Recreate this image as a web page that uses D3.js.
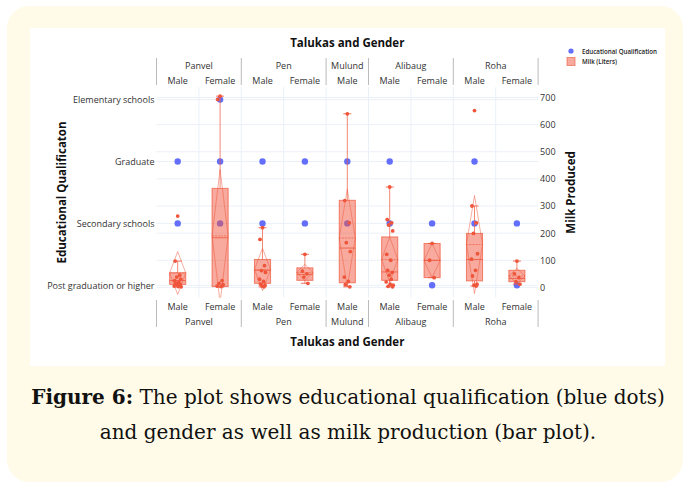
<!DOCTYPE html>
<html>
<head>
<meta charset="utf-8">
<script src="https://cdn.jsdelivr.net/npm/d3@7"></script>
<style>
  html, body { margin: 0; padding: 0; background: #ffffff; }
  svg { display: block; }
  text { font-family: "Open Sans", sans-serif; }
  text.caption { font-family: "DejaVu Serif", serif; }
</style>
</head>
<body>
<svg id="chart" width="690" height="485"></svg>
<script>
// ---- data -------------------------------------------------------------
const talukas = ["Panvel", "Pen", "Mulund", "Alibaug", "Roha"];
const catTaluka = ["Panvel", "Panvel", "Pen", "Pen", "Mulund", "Alibaug", "Alibaug", "Roha", "Roha"];
const catGender = ["Male", "Female", "Male", "Female", "Male", "Male", "Female", "Male", "Female"];

const qualLevels = ["Post graduation or higher", "Secondary schools", "Graduate", "Elementary schools"];

// educational qualification reported in each taluka / gender group
const eduCat   = [0, 0, 1, 1, 1, 2, 2, 3, 3, 4, 4, 5, 5, 6, 6, 7, 7, 8, 8];
const eduLevel = ["Graduate", "Secondary schools",
                  "Elementary schools", "Graduate", "Secondary schools",
                  "Graduate", "Secondary schools",
                  "Graduate", "Secondary schools",
                  "Graduate", "Secondary schools",
                  "Graduate", "Secondary schools",
                  "Secondary schools", "Post graduation or higher",
                  "Graduate", "Secondary schools",
                  "Secondary schools", "Post graduation or higher"];

// milk produced (liters): box statistics per group
const milkQ1     = [11,   3,  15, 26,  17,  26,  36,  24, 21];
const milkMedian = [25, 183,  63, 48, 145,  57, 100, 103, 33];
const milkQ3     = [54, 365, 103, 72, 321, 186, 162, 199, 63];
const milkLow    = [2,    1,   2, 15,   2,   2,  36,   5, 12];
const milkHigh   = [97, 705, 220, 122, 640, 370, 162, 300, 97];
const milkMean   = [53, 190,  66, 55, 182, 103,  99, 158, 42];
const milkSd     = [79, 245,  78, 30, 180,  83,  63, 181, 28];

// individual milk observations per group
const milkPoints = [
  [263, 97, 45, 38, 30, 25, 20, 15, 12, 10, 8, 5, 3, 2],
  [705, 693, 25, 15, 10, 5, 3],
  [220, 177, 80, 62, 55, 30, 22, 12, 8, 5, 2],
  [122, 60, 50, 38, 15],
  [640, 320, 238, 165, 132, 38, 22, 10, 2],
  [370, 250, 238, 230, 208, 122, 100, 63, 55, 45, 30, 20, 12, 8, 4, 2],
  [162, 100, 36],
  [652, 300, 238, 199, 124, 104, 63, 42, 12, 8, 5],
  [97, 50, 36, 21, 12]
];

const milkTicks = [0, 100, 200, 300, 400, 500, 600, 700];

// ---- layout -----------------------------------------------------------
const svg = d3.select("#chart");
const plot = { left: 156.5, right: 538.1, top: 87.2, bottom: 297.7 };
const blue = "#636EFA", red = "#EF553B", grid = "#EBF0F8", txt = "#333";

// card background
svg.append("rect").attr("x", 7).attr("y", 6).attr("width", 676).attr("height", 476)
  .attr("rx", 22).attr("fill", "#fffbe8");
svg.append("rect").attr("x", 30).attr("y", 28).attr("width", 635).attr("height", 338)
  .attr("fill", "#ffffff");

const x = d3.scaleBand().domain(d3.range(catGender.length)).range([plot.left, plot.right]).padding(0);
const yQual = d3.scaleLinear().domain([-0.2, 3.2]).range([plot.bottom, plot.top]);
const yMilk = d3.scaleLinear().domain([-38, 738]).range([plot.bottom, plot.top]);
const bw = x.bandwidth();
const boxW = bw * 0.38;

// gridlines
const gridG = svg.append("g");
milkTicks.forEach(t => gridG.append("line")
  .attr("x1", plot.left).attr("x2", plot.right).attr("y1", yMilk(t)).attr("y2", yMilk(t))
  .attr("stroke", grid).attr("stroke-width", 1));
qualLevels.forEach((q, i) => gridG.append("line")
  .attr("x1", plot.left).attr("x2", plot.right).attr("y1", yQual(i)).attr("y2", yQual(i))
  .attr("stroke", grid).attr("stroke-width", 1));
d3.range(1, catGender.length).forEach(i => gridG.append("line")
  .attr("x1", x(i)).attr("x2", x(i)).attr("y1", plot.top).attr("y2", plot.bottom)
  .attr("stroke", grid).attr("stroke-width", 1));

// left axis (qualification)
const leftAxis = d3.axisLeft(yQual).tickValues(d3.range(qualLevels.length))
  .tickFormat(i => qualLevels[i]).tickSize(0).tickPadding(2);
const gl = svg.append("g").attr("transform", `translate(${plot.left},0)`).call(leftAxis);
gl.select(".domain").remove();
gl.selectAll("text").attr("font-size", 9).attr("fill", txt).attr("font-family", "Open Sans");

// right axis (milk)
const rightAxis = d3.axisRight(yMilk).tickValues(milkTicks).tickSize(0).tickPadding(2);
const gr = svg.append("g").attr("transform", `translate(${plot.right},0)`).call(rightAxis);
gr.select(".domain").remove();
gr.selectAll("text").attr("font-size", 9).attr("fill", txt).attr("font-family", "Open Sans");

// axis titles
const midY = (plot.top + plot.bottom) / 2;
svg.append("text").attr("transform", `translate(66,${midY}) rotate(-90)`)
  .attr("text-anchor", "middle").attr("font-size", 11.5).attr("font-weight", "bold")
  .attr("fill", "#111").text("Educational Qualificaton");
svg.append("text").attr("transform", `translate(575,${midY}) rotate(-90)`)
  .attr("text-anchor", "middle").attr("font-size", 11.5).attr("font-weight", "bold")
  .attr("fill", "#111").text("Milk Produced");

// multi-level category axes (top and bottom)
const groups = talukas.map(t => {
  const idx = catTaluka.map((c, i) => c === t ? i : -1).filter(i => i >= 0);
  return { name: t, first: idx[0], last: idx[idx.length - 1] };
});
const bounds = [plot.left].concat(groups.map(g => x(g.last) + bw));

function catAxis(sepTop, sepBottom, genderY, groupY, titleY) {
  const g = svg.append("g");
  bounds.forEach(b => g.append("line").attr("x1", b).attr("x2", b)
    .attr("y1", sepTop).attr("y2", sepBottom).attr("stroke", "#bbb").attr("stroke-width", 1));
  catGender.forEach((c, i) => g.append("text").attr("x", x(i) + bw / 2).attr("y", genderY)
    .attr("text-anchor", "middle").attr("dominant-baseline", "central")
    .attr("font-size", 9).attr("fill", txt).text(c));
  groups.forEach(gr => g.append("text").attr("x", (x(gr.first) + x(gr.last) + bw) / 2).attr("y", groupY)
    .attr("text-anchor", "middle").attr("dominant-baseline", "central")
    .attr("font-size", 9).attr("fill", txt).text(gr.name));
  g.append("text").attr("x", (plot.left + plot.right) / 2).attr("y", titleY)
    .attr("text-anchor", "middle").attr("dominant-baseline", "central")
    .attr("font-size", 11.5).attr("font-weight", "bold").attr("fill", "#111").text("Talukas and Gender");
}
catAxis(58, 85, 80, 65, 42);
catAxis(300, 327, 306, 321, 341);

// clip for marks
svg.append("clipPath").attr("id", "plotClip").append("rect")
  .attr("x", plot.left).attr("y", plot.top)
  .attr("width", plot.right - plot.left).attr("height", plot.bottom - plot.top);
const marks = svg.append("g").attr("clip-path", "url(#plotClip)");

// qualification dots
marks.append("g").selectAll("circle").data(eduCat).join("circle")
  .attr("cx", (c) => x(c) + bw / 2)
  .attr("cy", (c, i) => yQual(qualLevels.indexOf(eduLevel[i])))
  .attr("r", 3.2).attr("fill", blue);

// milk boxes
const jitter = [0, -2.5, 2, -1, 3, -3, 1, -2, 2.5, -0.5, 1.5, -3.5, 0.5, 3.5, -1.5, 2.8];
catGender.forEach((c, i) => {
  const cx = x(i) + bw / 2;
  const g = marks.append("g");
  // whiskers
  g.append("line").attr("x1", cx).attr("x2", cx).attr("y1", yMilk(milkQ3[i])).attr("y2", yMilk(milkHigh[i]))
    .attr("stroke", red).attr("stroke-opacity", 0.7);
  g.append("line").attr("x1", cx).attr("x2", cx).attr("y1", yMilk(milkQ1[i])).attr("y2", yMilk(milkLow[i]))
    .attr("stroke", red).attr("stroke-opacity", 0.7);
  [milkHigh[i], milkLow[i]].forEach(v => g.append("line")
    .attr("x1", cx - boxW / 4).attr("x2", cx + boxW / 4).attr("y1", yMilk(v)).attr("y2", yMilk(v))
    .attr("stroke", red).attr("stroke-opacity", 0.8));
  // box
  g.append("rect").attr("x", cx - boxW / 2).attr("y", yMilk(milkQ3[i]))
    .attr("width", boxW).attr("height", yMilk(milkQ1[i]) - yMilk(milkQ3[i]))
    .attr("fill", red).attr("fill-opacity", 0.5).attr("stroke", red).attr("stroke-opacity", 0.7);
  // median
  g.append("line").attr("x1", cx - boxW / 2).attr("x2", cx + boxW / 2)
    .attr("y1", yMilk(milkMedian[i])).attr("y2", yMilk(milkMedian[i]))
    .attr("stroke", red).attr("stroke-opacity", 0.8);
  // mean line and sd diamond
  g.append("line").attr("x1", cx - boxW / 2).attr("x2", cx + boxW / 2)
    .attr("y1", yMilk(milkMean[i])).attr("y2", yMilk(milkMean[i]))
    .attr("stroke", red).attr("stroke-opacity", 0.6).attr("stroke-dasharray", "2,1");
  const d = [[cx, yMilk(milkMean[i] + milkSd[i])], [cx + boxW / 2, yMilk(milkMean[i])],
             [cx, yMilk(milkMean[i] - milkSd[i])], [cx - boxW / 2, yMilk(milkMean[i])]];
  g.append("path").attr("d", d3.line()(d) + "Z").attr("fill", "none")
    .attr("stroke", red).attr("stroke-opacity", 0.6).attr("stroke-width", 0.8);
  // observations
  g.selectAll("circle").data(milkPoints[i]).join("circle")
    .attr("cx", (v, k) => cx + jitter[k % jitter.length])
    .attr("cy", v => yMilk(v)).attr("r", 1.9).attr("fill", red);
});

// legend
const lg = svg.append("g");
lg.append("circle").attr("cx", 571).attr("cy", 51).attr("r", 2.6).attr("fill", blue);
lg.append("rect").attr("x", 567).attr("y", 57.5).attr("width", 8).attr("height", 8)
  .attr("fill", red).attr("fill-opacity", 0.5).attr("stroke", red).attr("stroke-opacity", 0.6);
lg.append("text").attr("x", 582).attr("y", 51).attr("dominant-baseline", "central")
  .attr("font-size", 6.2).attr("font-weight", 600).attr("fill", "#222").text("Educational Qualification");
lg.append("text").attr("x", 582).attr("y", 61.5).attr("dominant-baseline", "central")
  .attr("font-size", 6.2).attr("font-weight", 600).attr("fill", "#222").text("Milk (Liters)");

// caption
const cap = svg.append("g").attr("fill", "#111");
const l1 = cap.append("text").attr("class", "caption").attr("x", 348).attr("y", 404)
  .attr("text-anchor", "middle").attr("font-size", 20);
l1.append("tspan").attr("font-weight", "bold").text("Figure 6:");
l1.append("tspan").text(" The plot shows educational qualification (blue dots)");
cap.append("text").attr("class", "caption").attr("x", 348).attr("y", 439)
  .attr("text-anchor", "middle").attr("font-size", 20)
  .text("and gender as well as milk production (bar plot).");
</script>
</body>
</html>
